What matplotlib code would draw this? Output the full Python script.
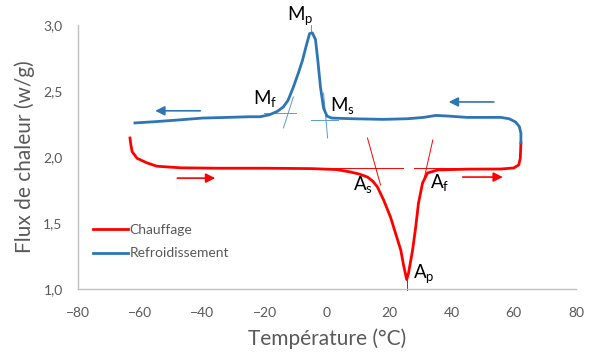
import numpy as np
import matplotlib
matplotlib.use("Agg")
import matplotlib.pyplot as plt
from matplotlib.ticker import FuncFormatter

# heating curve (Chauffage)
heat_T = [-63.3, -63.0, -62.6, -61.0, -57.8, -54.6, -47, -35, -20, -5, 3, 7.6, 10.5,
          13.0, 14.8, 16.2, 18.2, 20.4, 22.0, 23.7, 24.6, 25.6, 26.2, 27.5, 28.5, 29.4,
          30.7, 32.3, 35.6, 45, 55.8, 60.0, 61.6, 62.1, 62.3]
heat_flux = [2.144, 2.09, 2.04, 1.99, 1.955, 1.93, 1.918, 1.915, 1.915, 1.912, 1.905, 1.886, 1.87,
             1.848, 1.815, 1.773, 1.674, 1.545, 1.424, 1.295, 1.18, 1.072, 1.121, 1.295, 1.47, 1.652,
             1.803, 1.879, 1.902, 1.908, 1.909, 1.917, 1.94, 1.99, 2.106]

# cooling curve (Refroidissement)
cool_T = [-61.7, -55, -48, -40, -32, -25, -21.5, -18.5, -16, -14, -12.5, -10.8, -9.3, -7.9,
          -6.7, -5.6, -4.7, -3.7, -2.9, -2.1, -1.1, 0, 1.5, 8, 18, 26, 31, 35, 39, 45, 52,
          55.8, 58.5, 60.6, 61.8, 62.3, 62.3]
cool_flux = [2.258, 2.268, 2.28, 2.295, 2.30, 2.305, 2.305, 2.32, 2.345, 2.38, 2.43, 2.53, 2.63, 2.73,
             2.84, 2.935, 2.94, 2.89, 2.72, 2.53, 2.37, 2.31, 2.295, 2.29, 2.285, 2.29, 2.30, 2.315, 2.31,
             2.30, 2.30, 2.30, 2.29, 2.265, 2.23, 2.18, 2.106]

# tangent construction lines: (T1, flux1, T2, flux2)
cool_tangents = [(-20.4, 2.333, -10.1, 2.333), (-14.0, 2.22, -10.8, 2.455),
                 (-5.0, 2.28, 3.5, 2.28), (-1.1, 2.485, 0.2, 2.144),
                 (-5.3, 2.94, -5.3, 3.0)]
heat_tangents = [(-10, 1.917, 24.3, 1.917), (13.0, 2.144, 17.2, 1.788),
                 (27.8, 1.917, 52.3, 1.917), (34.0, 2.129, 31.1, 1.826),
                 (25.6, 1.09, 25.6, 0.99)]

# direction arrows: (T_from, T_to, flux)
cool_arrows = [(-40.7, -55.2, 2.35), (53.6, 39.1, 2.417)]
heat_arrows = [(-48.1, -35.9, 1.84), (43.6, 56.5, 1.848)]

# point labels: (text, T, flux)
point_labels = [(r"$\mathregular{M_p}$", -8.5, 3.07), (r"$\mathregular{M_f}$", -19.8, 2.44),
                (r"$\mathregular{M_s}$", 5.0, 2.39), (r"$\mathregular{A_s}$", 11.7, 1.79),
                (r"$\mathregular{A_f}$", 36.2, 1.81), (r"$\mathregular{A_p}$", 31.1, 1.12)]

x_ticks = [-80, -60, -40, -20, 0, 20, 40, 60, 80]
y_ticks = [1.0, 1.5, 2.0, 2.5, 3.0]

RED = "#ff0000"
BLUE = "#2e75b6"
GREY = "#595959"

plt.rcParams["font.family"] = ["Lato", "DejaVu Sans"]
plt.rcParams["mathtext.fontset"] = "custom"
plt.rcParams["mathtext.rm"] = "Lato"

fig = plt.figure(figsize=(5.93, 3.58), dpi=100)
ax = fig.add_axes([78 / 593, 1 - 289 / 358, 498 / 593, 264 / 358])

ax.plot(heat_T, heat_flux, color=RED, lw=2.0, solid_joinstyle="round", label="Chauffage", zorder=3)
ax.plot(cool_T, cool_flux, color=BLUE, lw=2.0, solid_joinstyle="round", label="Refroidissement", zorder=3)

for t1, f1, t2, f2 in cool_tangents:
    ax.plot([t1, t2], [f1, f2], color="#5b9bd5", lw=0.7, zorder=2, clip_on=False)
for t1, f1, t2, f2 in heat_tangents:
    ax.plot([t1, t2], [f1, f2], color=RED, lw=0.7, zorder=2, clip_on=False)

for arrows, col in ((cool_arrows, BLUE), (heat_arrows, RED)):
    for t0, t1, f in arrows:
        ax.annotate("", xy=(t1, f), xytext=(t0, f),
                    arrowprops=dict(arrowstyle="-|>", color=col, lw=1.2,
                                    mutation_scale=14, shrinkA=0, shrinkB=0))

for txt, t, f in point_labels:
    ax.text(t, f, txt, fontsize=13.5, color="black", ha="center", va="center", clip_on=False)

ax.set_xlim(-80, 80)
ax.set_ylim(1.0, 3.0)
ax.set_xticks(x_ticks)
ax.set_yticks(y_ticks)
ax.yaxis.set_major_formatter(FuncFormatter(lambda v, p: f"{v:.1f}".replace(".", ",")))
ax.tick_params(length=0, labelsize=10, colors=GREY)
ax.tick_params(axis="x", pad=13)
ax.tick_params(axis="y", pad=11)

for s in ("top", "right"):
    ax.spines[s].set_visible(False)
for s in ("left", "bottom"):
    ax.spines[s].set_color("#bfbfbf")
    ax.spines[s].set_linewidth(1.0)

ax.set_xlabel("Température (°C)", fontsize=15, color=GREY, labelpad=7)
ax.set_ylabel("Flux de chaleur (w/g)", fontsize=15, color=GREY, labelpad=6)

ax.legend(loc="upper left", bbox_to_anchor=(0.03, 0.245), frameon=False, fontsize=10,
          handlelength=2.5, handletextpad=0.15, labelspacing=0.8, borderpad=0,
          borderaxespad=0, labelcolor=GREY)

fig.savefig("out.png", dpi=100)
